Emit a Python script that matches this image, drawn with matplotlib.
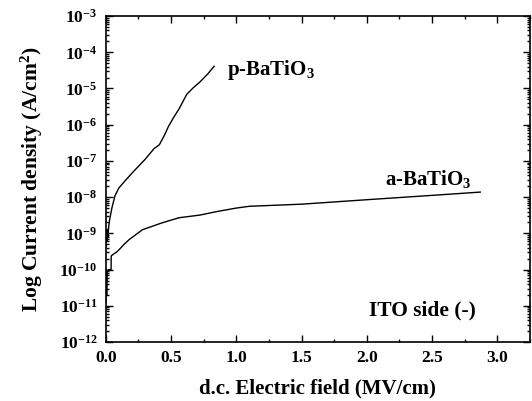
import numpy as np
import matplotlib
matplotlib.use("Agg")
import matplotlib.pyplot as plt
from matplotlib.ticker import LogLocator, MultipleLocator, FixedLocator, NullFormatter

plt.rcParams['font.family'] = ['Liberation Serif', 'DejaVu Serif']
plt.rcParams['font.weight'] = 'bold'
plt.rcParams['mathtext.fontset'] = 'custom'
plt.rcParams['mathtext.rm'] = 'Liberation Serif:bold'
plt.rcParams['mathtext.it'] = 'Liberation Serif:bold'
plt.rcParams['mathtext.bf'] = 'Liberation Serif:bold'

# ---- p-BaTiO3
xp = np.array([0.0, 0.004, 0.008, 0.012, 0.016, 0.022, 0.03, 0.046, 0.07, 0.1, 0.15, 0.2, 0.3, 0.37, 0.41,
               0.45, 0.48, 0.52, 0.56, 0.62, 0.67, 0.72, 0.78, 0.83])
jp = np.array([4e-10, 1.2e-9, 6e-10, 1.3e-9, 8e-10, 1.6e-9, 2.5e-9, 5e-9, 1.1e-8, 1.8e-8, 2.9e-8, 4.6e-8,
               1.1e-7, 2.2e-7, 2.8e-7, 5.2e-7, 9e-7, 1.6e-6, 2.7e-6, 6.9e-6, 1.05e-5, 1.5e-5, 2.5e-5, 4.1e-5])

# ---- a-BaTiO3
xa = np.array([0.0, 0.003, 0.006, 0.01, 0.02, 0.04, 0.041, 0.06, 0.08, 0.1, 0.14, 0.18, 0.28, 0.43, 0.56,
               0.72, 0.85, 1.0, 1.1, 1.5, 2.0, 2.5, 2.87])
ja = np.array([1.2e-11, 1e-10, 2e-11, 9e-11, 1e-10, 1e-10, 2.4e-10, 2.7e-10, 3e-10, 3.5e-10, 5e-10, 6.8e-10,
               1.26e-9, 1.95e-9, 2.7e-9, 3.2e-9, 4e-9, 5e-9, 5.6e-9, 6.4e-9, 8.5e-9, 1.12e-8, 1.38e-8])

yticks = [1e-12, 1e-11, 1e-10, 1e-9, 1e-8, 1e-7, 1e-6, 1e-5, 1e-4, 1e-3]
ytick_labels = [r'10$^{%d}$' % int(np.log10(v)) for v in yticks]
xticks = [0.0, 0.5, 1.0, 1.5, 2.0, 2.5, 3.0]

fig = plt.figure(figsize=(5.32, 4.01), dpi=100)
ax = fig.add_axes([0.199, 0.147, 0.797, 0.813])

ax.plot(xp, jp, color='black', lw=1.0)
ax.plot(xa, ja, color='black', lw=1.0)

ax.set_yscale('log')
ax.set_xlim(0, 3.25)
ax.set_ylim(1e-12, 1e-3)
ax.yaxis.set_major_locator(FixedLocator(yticks))
ax.set_yticklabels(ytick_labels, fontsize=12.5)
ax.yaxis.set_minor_locator(LogLocator(base=10, subs=np.arange(2, 10)))
ax.yaxis.set_minor_formatter(NullFormatter())
ax.set_xticks(xticks)
ax.set_xticklabels(['%.1f' % v for v in xticks], fontsize=12.5)
ax.xaxis.set_minor_locator(MultipleLocator(0.25))

ax.tick_params(which='both', direction='in', top=True, right=True, width=1)
ax.tick_params(which='major', length=5, pad=6)
ax.tick_params(which='minor', length=2.5)
for s in ax.spines.values():
    s.set_linewidth(1.2)

ax.set_xlabel('d.c. Electric field (MV/cm)', fontsize=15, fontweight='bold', labelpad=9)
ax.set_ylabel(r'Log Current density (A/cm$^2$)', fontsize=15.5, fontweight='bold', labelpad=10)

ax.text(0.93, 2.3e-5, r'p-BaTiO$_3$', fontsize=15, fontweight='bold', va='baseline')
ax.text(2.14, 2.15e-8, r'a-BaTiO$_3$', fontsize=15, fontweight='bold', va='baseline')
ax.text(2.02, 5.5e-12, 'ITO side (-)', fontsize=15.5, fontweight='bold', va='baseline')

fig.savefig('out.png', dpi=100)
